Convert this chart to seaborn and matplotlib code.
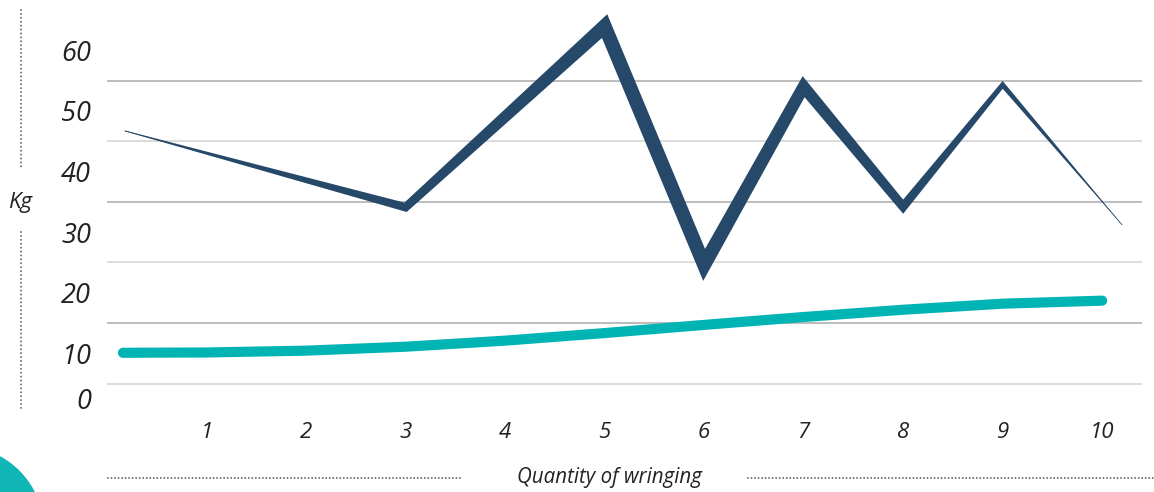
import numpy as np
import pandas as pd
import seaborn as sns
import matplotlib.pyplot as plt
from matplotlib.patches import Polygon, Circle
from matplotlib.lines import Line2D
from matplotlib.transforms import IdentityTransform

# chart values
wring_x = [0.18, 3, 5, 6, 7, 8, 9, 10.2]
wring_kg = [46.7, 34.1, 64.0, 24.6, 54.0, 34.2, 54.3, 31.2]
trend_x = [0.16, 1, 2, 3, 4, 5, 6, 7, 8, 9, 10]
trend_kg = [10.1, 10.15, 10.45, 11.1, 12.1, 13.35, 14.7, 16.0, 17.2, 18.2, 18.7]
x_ticks = [1, 2, 3, 4, 5, 6, 7, 8, 9, 10]
y_ticks = [2.6, 10, 20, 30, 40, 50, 60]
y_labels = ['0', '10', '20', '30', '40', '50', '60']
grid_levels = [5, 15, 25, 35, 45, 55]

dark = '#26496a'
teal = '#00b4b3'
# stroke width (px) at each vertex of the dark line
stroke_px = [0.8, 8.5, 14, 14, 12, 9, 5, 0.2]

sns.set_style('white')
plt.rcParams['font.family'] = ['Open Sans', 'DejaVu Sans']

W, H = 1154, 492
fig = plt.figure(figsize=(W / 100, H / 100), dpi=100)
ax = fig.add_axes([107 / W, (H - 414) / H, 1035 / W, 414 / H])
ax.set_xlim(0, 10.4)
ax.set_ylim(0, 68.3)

for i, g in enumerate(grid_levels):
    ax.axhline(g, color='#d2d2d2' if i % 2 == 0 else '#aaaaaa', lw=1.1, zorder=0)

df_trend = pd.DataFrame({'x': trend_x, 'kg': trend_kg})
sns.lineplot(data=df_trend, x='x', y='kg', ax=ax, color=teal, lw=7.3,
             solid_capstyle='round', zorder=3)

# dark series as a tapered stroke built from the data points
df_w = pd.DataFrame({'x': wring_x, 'kg': wring_kg})
sns.lineplot(data=df_w, x='x', y='kg', ax=ax, color=dark, lw=0.5, zorder=4)
pts = ax.transData.transform(np.column_stack([df_w['x'], df_w['kg']]))
d = np.diff(pts, axis=0)
d = d / np.linalg.norm(d, axis=1)[:, None]
nrm = np.column_stack([-d[:, 1], d[:, 0]])
half = np.array(stroke_px) / 2
off = np.zeros_like(pts)
off[0] = nrm[0] * half[0]
off[-1] = nrm[-1] * half[-1]
for i in range(1, len(pts) - 1):
    m = nrm[i - 1] + nrm[i]
    m = m / np.linalg.norm(m)
    off[i] = m * half[i] / np.dot(m, nrm[i])
outline = np.vstack([pts + off, (pts - off)[::-1]])
outline = ax.transData.inverted().transform(outline)
ax.add_patch(Polygon(outline, closed=True, facecolor=dark, edgecolor='none', zorder=5))

ax.set_xticks(x_ticks)
ax.set_xticklabels([str(t) for t in x_ticks], fontsize=16, style='italic', color='#222222')
ax.set_yticks(y_ticks)
ax.set_yticklabels(y_labels, fontsize=19.5, style='italic', color='#222222')
ax.tick_params(axis='x', length=0, pad=6)
ax.tick_params(axis='y', length=0, pad=11.5)
ax.set_xlabel('')
ax.set_ylabel('')
for s in ax.spines.values():
    s.set_visible(False)

fig.text(609 / W, 1 - 478 / H, 'Quantity of wringing', ha='center', va='center',
         fontsize=14.8, style='italic', color='#222222')
fig.text(20 / W, 1 - 202 / H, 'Kg', ha='center', va='center',
         fontsize=16, style='italic', color='#222222')

def dotted(x0, y0, x1, y1, gap):
    fig.add_artist(Line2D([x0 / W, x1 / W], [1 - y0 / H, 1 - y1 / H], transform=fig.transFigure,
                          color='#666666', lw=1.4, linestyle=(0, (0.01, gap)),
                          dash_capstyle='round'))

dotted(21, 10, 21, 168, 2.0)
dotted(21, 232, 21, 410, 2.0)
dotted(108, 478, 462, 478, 1.8)
dotted(748, 478, 1154, 478, 1.8)

# decorative teal corner shape, in pixel units
blob = Circle((-40, H - 530), 84, facecolor='#10b6b6', edgecolor='none')
blob.set_transform(IdentityTransform())
fig.add_artist(blob)

fig.savefig('out.png', dpi=100)
